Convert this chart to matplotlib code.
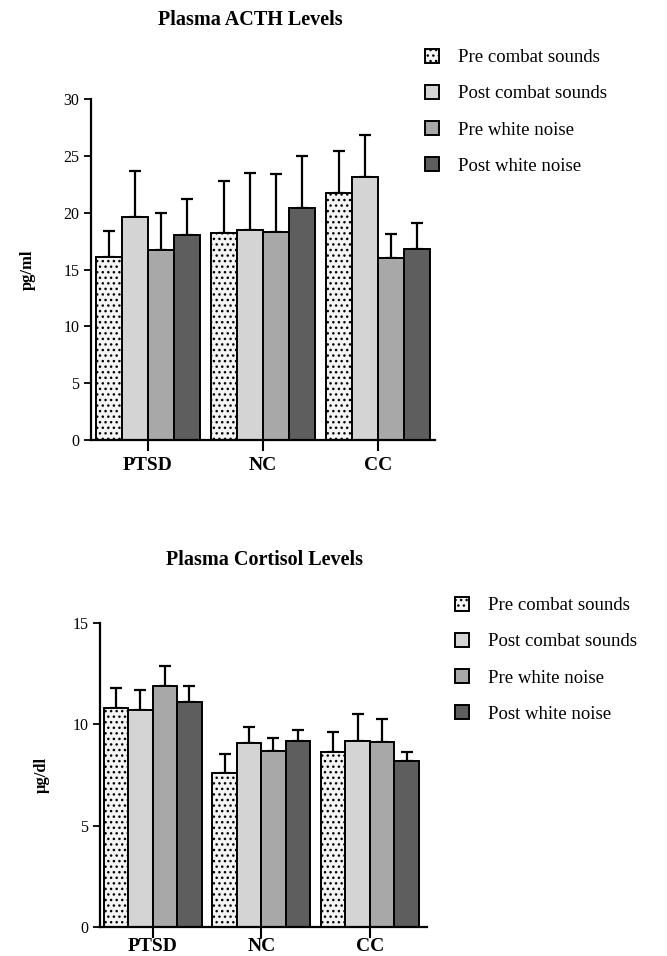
import matplotlib
matplotlib.use("Agg")
import matplotlib.pyplot as plt
import numpy as np

plt.rcParams['font.family'] = ['Liberation Serif', 'DejaVu Serif']
plt.rcParams['hatch.linewidth'] = 1.0

groups = ['PTSD', 'NC', 'CC']
conditions = ['Pre combat sounds', 'Post combat sounds', 'Pre white noise', 'Post white noise']

# ACTH (pg/ml): means and top of the error bar
acth_mean = [[16.1, 18.2, 21.7],
             [19.6, 18.5, 23.1],
             [16.7, 18.3, 16.0],
             [18.0, 20.4, 16.8]]
acth_top = [[18.4, 22.8, 25.4],
            [23.7, 23.5, 26.8],
            [20.0, 23.4, 18.1],
            [21.2, 25.0, 19.1]]

# Cortisol (ug/dl)
cort_mean = [[10.8, 7.6, 8.65],
             [10.7, 9.1, 9.2],
             [11.9, 8.7, 9.15],
             [11.1, 9.2, 8.2]]
cort_top = [[11.8, 8.55, 9.6],
            [11.7, 9.85, 10.5],
            [12.9, 9.35, 10.25],
            [11.9, 9.7, 8.65]]

fills = ['#f4f4f4', '#d4d4d4', '#a8a8a8', '#5e5e5e']
hatches = ['...', None, None, None]


def draw_panel(ax, means, tops, ylim, yticks, ylabel, xlim, xpad):
    x = np.arange(len(groups))
    w = 0.225
    handles = []
    for i in range(4):
        pos = x + (i - 1.5) * w
        m = np.array(means[i])
        err = np.array(tops[i]) - m
        b = ax.bar(pos, m, w, color=fills[i], hatch=hatches[i],
                   edgecolor='black', linewidth=1.4, zorder=2)
        ax.errorbar(pos, m, yerr=[np.zeros_like(err), err], fmt='none',
                    ecolor='black', elinewidth=1.6, capsize=4.5, capthick=1.6, zorder=1)
        handles.append(b)
    ax.set_ylim(*ylim)
    ax.set_xlim(*xlim)
    ax.set_yticks(yticks)
    ax.set_xticks(x)
    ax.set_xticklabels(groups, fontsize=14, fontweight='bold')
    ax.tick_params(axis='x', length=8, width=1.5, direction='out', pad=xpad)
    ax.tick_params(axis='y', length=5, width=1.3, labelsize=11.5)
    ax.spines['top'].set_visible(False)
    ax.spines['right'].set_visible(False)
    ax.spines['left'].set_linewidth(1.6)
    ax.spines['bottom'].set_linewidth(1.6)
    ax.set_ylabel(ylabel, fontsize=12, fontweight='bold')
    return handles


fig = plt.figure(figsize=(6.67, 9.56), dpi=100)

ax1 = fig.add_axes([91 / 667, 1 - 440 / 956, (435 - 91) / 667, (440 - 99) / 956])
h1 = draw_panel(ax1, acth_mean, acth_top, (0, 30), [0, 5, 10, 15, 20, 25, 30], 'pg/ml',
                (-0.496, 2.496), 4)
ax1.yaxis.set_label_coords(-0.16, 0.5)
fig.text(250 / 667, 1 - 20 / 956, 'Plasma ACTH Levels', ha='center', va='center',
         fontsize=14.5, fontweight='bold')
fig.legend(h1, conditions, loc='upper left', bbox_to_anchor=(408 / 667, 1 - 32 / 956),
           frameon=False, fontsize=13.5, handlelength=0.75, handleheight=0.75,
           handletextpad=1.0, labelspacing=1.0)

ax2 = fig.add_axes([100 / 667, 1 - 927 / 956, (427 - 100) / 667, (927 - 623) / 956])
h2 = draw_panel(ax2, cort_mean, cort_top, (0, 15), [0, 5, 10, 15], 'μg/dl',
                (-0.485, 2.526), 0)
ax2.yaxis.set_label_coords(-0.155, 0.5)
fig.text(265 / 667, 1 - 560 / 956, 'Plasma Cortisol Levels', ha='center', va='center',
         fontsize=14.5, fontweight='bold')
fig.legend(h2, conditions, loc='upper left', bbox_to_anchor=(438 / 667, 1 - 580 / 956),
           frameon=False, fontsize=13.5, handlelength=0.75, handleheight=0.75,
           handletextpad=1.0, labelspacing=1.0)

fig.savefig('out.png', dpi=100)
